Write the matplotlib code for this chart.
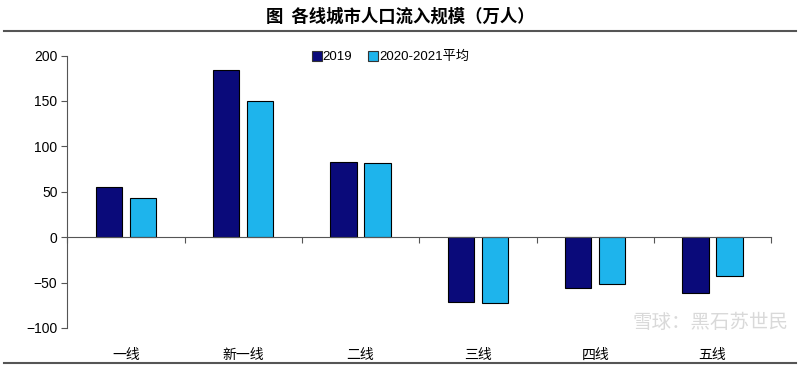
import numpy as np
import matplotlib
matplotlib.use('Agg')
import matplotlib.pyplot as plt
from matplotlib.lines import Line2D

plt.rcParams['font.family'] = ['Liberation Sans', 'Noto Sans CJK SC', 'DejaVu Sans']

categories = ['一线', '新一线', '二线', '三线', '四线', '五线']
v2019 = [55, 184, 83, -72, -56, -62]
v2020_21 = [43, 150, 82, -73, -52, -43]
series_names = ['2019', '2020-2021平均']
yticks = [-100, -50, 0, 50, 100, 150, 200]

c_dark = '#0a0a7a'
c_light = '#1eb4ec'

fig = plt.figure(figsize=(8, 3.68), dpi=100)
ax = fig.add_axes([0.084, 0.109, 0.88, 0.74])

x = np.arange(len(categories))
w = 0.225
ax.bar(x - 0.145, v2019, w, color=c_dark, edgecolor='black', linewidth=0.8, label=series_names[0])
ax.bar(x + 0.145, v2020_21, w, color=c_light, edgecolor='black', linewidth=0.8, label=series_names[1])

ax.set_xlim(-0.5, len(categories) - 0.5)
ax.set_ylim(-100, 200)
ax.set_yticks(yticks)
ax.tick_params(axis='y', direction='out', length=4, color='#555555', labelsize=10, pad=3)

for s in ['top', 'right']:
    ax.spines[s].set_visible(False)
ax.spines['left'].set_color('#555555')
ax.spines['bottom'].set_position(('data', 0))
ax.spines['bottom'].set_color('#555555')
ax.set_xticks(np.arange(len(categories) + 1) - 0.5)
ax.set_xticklabels([])
ax.tick_params(axis='x', direction='out', length=4, color='#555555')

for i, c in enumerate(categories):
    ax.text(i, -0.1, c, transform=ax.get_xaxis_transform(), ha='center', va='center',
            fontsize=10, family=['Noto Sans CJK SC'])

handles = [Line2D([], [], marker='s', linestyle='none', markersize=7, markerfacecolor=col,
                  markeredgecolor='#333333', markeredgewidth=0.8) for col in (c_dark, c_light)]
ax.legend(handles, series_names, loc='upper left', bbox_to_anchor=(0.33, 1.06), ncol=2,
          frameon=False, handletextpad=0.05, columnspacing=1.2, handlelength=0.8,
          prop={'family': ['Liberation Sans', 'Noto Sans CJK SC'], 'size': 9.5})

fig.text(0.5, 0.955, '图  各线城市人口流入规模（万人）', ha='center', va='center', fontsize=12.5,
         fontweight='bold', family=['Noto Sans CJK SC'])
fig.add_artist(Line2D([0.005, 0.995], [0.915, 0.915], color='#555555', linewidth=1.5))
fig.add_artist(Line2D([0.005, 0.995], [0.013, 0.013], color='#555555', linewidth=1.5))

fig.text(0.985, 0.125, '雪球：黑石苏世民', ha='right', va='center', fontsize=14, color='#d0d0d0',
         family=['Noto Sans CJK SC'], alpha=0.8)

fig.savefig('out.png', dpi=100)
